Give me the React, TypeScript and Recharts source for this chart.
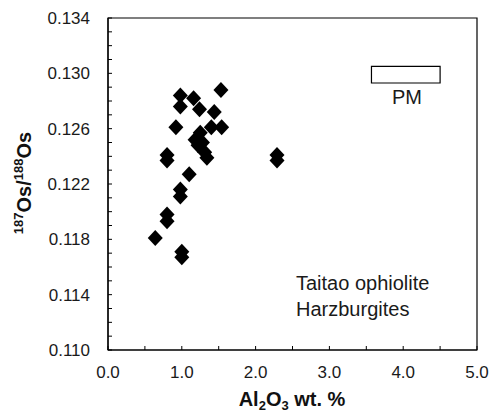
import { ReferenceArea, Scatter, ScatterChart, XAxis, YAxis } from 'recharts'

// Al2O3 (wt.%) vs 187Os/188Os, Taitao harzburgites
const al2o3 = [1.53, 0.98, 1.16, 1.24, 0.98, 1.44, 0.92, 1.4, 1.54, 1.25, 1.18, 1.22, 1.28, 1.31, 1.34, 0.8, 0.8, 1.1, 0.98, 0.98, 0.8, 0.8, 0.64, 1.0, 1.0, 2.29, 2.29]
const osRatio = [0.1288, 0.1284, 0.1282, 0.1274, 0.1276, 0.1272, 0.1261, 0.1261, 0.1261, 0.1257, 0.1252, 0.1248, 0.125, 0.1243, 0.1239, 0.1241, 0.1237, 0.1227, 0.1216, 0.1211, 0.1198, 0.1193, 0.1181, 0.1171, 0.1167, 0.1241, 0.1237]

const xTicks = [0, 0.5, 1, 1.5, 2, 2.5, 3, 3.5, 4, 4.5, 5]
const yTicks = Array.from({ length: 25 }, (_, i) => Number((0.11 + i * 0.001).toFixed(3)))

// primitive mantle box
const pmBox = { x1: 3.57, x2: 4.5, y1: 0.1293, y2: 0.1305 }

const points = al2o3.map((x, i) => ({ x, y: osRatio[i] }))

const FONT = 'Arial, "Liberation Sans", sans-serif'
const PLOT_LEFT = 108
const PLOT_BOTTOM = 350

function Diamond({ cx, cy }: any) {
  return <polygon points={`${cx},${cy - 8} ${cx + 7.5},${cy} ${cx},${cy + 8} ${cx - 7.5},${cy}`} fill="#000" />
}

function XTick({ x, payload }: any) {
  const v = payload.value
  const major = Math.abs(v - Math.round(v)) < 1e-6
  return (
    <g>
      <line x1={x} x2={x} y1={PLOT_BOTTOM} y2={PLOT_BOTTOM - 4} stroke="#000" />
      {major && (
        <text x={x} y={378} textAnchor="middle" fontSize={17} fontFamily={FONT} fill="#1a1a1a">
          {v.toFixed(1)}
        </text>
      )}
    </g>
  )
}

function YTick({ y, payload }: any) {
  const v = payload.value
  const n = Math.round(v * 1000)
  return (
    <g>
      <line x1={PLOT_LEFT} x2={PLOT_LEFT + 4} y1={y} y2={y} stroke="#000" />
      {n % 4 === 2 && (
        <text x={90} y={y + 6} textAnchor="end" fontSize={17} fontFamily={FONT} fill="#1a1a1a">
          {v.toFixed(3)}
        </text>
      )}
    </g>
  )
}

export default function App() {
  return (
    <div style={{ position: 'absolute', left: 0, top: 0, width: 491, height: 416, background: '#fff' }}>
      <ScatterChart width={491} height={416} margin={{ top: 18, right: 14, left: 0, bottom: 0 }}>
        <XAxis
          type="number"
          dataKey="x"
          domain={[0, 5]}
          ticks={xTicks}
          interval={0}
          height={66}
          tick={<XTick />}
          tickLine={false}
          axisLine={{ stroke: '#000', strokeWidth: 1.2 }}
          label={{
            content: () => (
              <text x={292} y={406} textAnchor="middle" fontSize={20} fontWeight="bold" fontFamily={FONT} fill="#111">
                Al<tspan fontSize={13} dy={4}>2</tspan>
                <tspan dy={-4}>O</tspan>
                <tspan fontSize={13} dy={4}>3</tspan>
                <tspan dy={-4}> wt. %</tspan>
              </text>
            ),
          }}
        />
        <YAxis
          type="number"
          dataKey="y"
          domain={[0.11, 0.134]}
          ticks={yTicks}
          interval={0}
          width={108}
          tick={<YTick />}
          tickLine={false}
          axisLine={{ stroke: '#000', strokeWidth: 1.2 }}
          label={{
            content: () => (
              <text
                transform="translate(31,183) rotate(-90)"
                textAnchor="middle"
                fontSize={20}
                fontWeight="bold"
                fontFamily={FONT}
                fill="#111"
              >
                <tspan fontSize={13} dy={-8}>187</tspan>
                <tspan dy={8}>Os/</tspan>
                <tspan fontSize={13} dy={-8}>188</tspan>
                <tspan dy={8}>Os</tspan>
              </text>
            ),
          }}
        />
        <ReferenceArea x1={0} x2={5} y1={0.11} y2={0.134} fill="none" stroke="#000" strokeWidth={1.2} ifOverflow="visible" />
        <ReferenceArea
          x1={pmBox.x1}
          x2={pmBox.x2}
          y1={pmBox.y1}
          y2={pmBox.y2}
          fill="#fff"
          fillOpacity={1}
          stroke="#000"
          strokeWidth={1.2}
          label={{
            content: () => (
              <text x={407} y={104} textAnchor="middle" fontSize={20} fontFamily={FONT} fill="#1a1a1a">
                PM
              </text>
            ),
          }}
        />
        <ReferenceArea
          x1={0}
          x2={0}
          y1={0.11}
          y2={0.11}
          fill="none"
          label={{
            content: () => (
              <text fontSize={20} fontFamily={FONT} fill="#1a1a1a">
                <tspan x={296} y={290}>Taitao ophiolite</tspan>
                <tspan x={296} y={316}>Harzburgites</tspan>
              </text>
            ),
          }}
        />
        <Scatter data={points} shape={<Diamond />} isAnimationActive={false} />
      </ScatterChart>
    </div>
  )
}
